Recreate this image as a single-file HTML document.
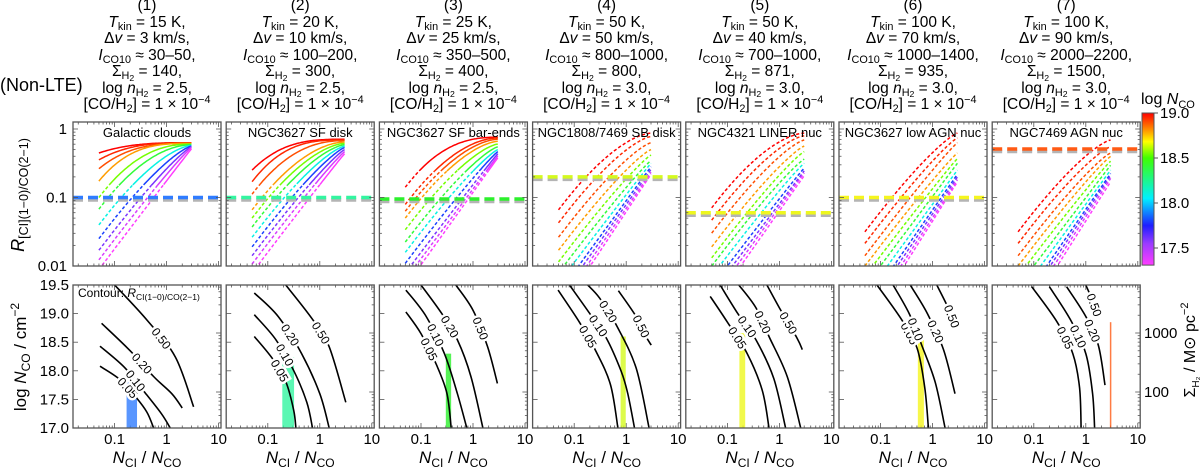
<!DOCTYPE html>
<html><head><meta charset="utf-8">
<style>
html,body{margin:0;padding:0;background:#fff;}
#wrap{position:relative;width:1200px;height:469px;overflow:hidden;font-family:"Liberation Sans","DejaVu Sans",sans-serif;color:#000;}
.hdr{position:absolute;top:-2px;width:190px;text-align:center;font-size:15.5px;line-height:16.5px;white-space:nowrap;}
.hdr sub,.hdr sup{font-size:70%;line-height:0;vertical-align:baseline;position:relative;}
.hdr sub{top:0.3em;}
.hdr sub sub{font-size:80%;top:0.2em;}
.hdr sup{top:-0.55em;}
.abs{position:absolute;white-space:nowrap;}
svg{position:absolute;left:0;top:0;}
</style></head>
<body>
<div id="wrap">
<div class="abs" style="left:0;top:75px;font-size:18px;">(Non-LTE)</div>
<div id="hdrs"></div>
<svg id="chart" width="1200" height="469" xmlns="http://www.w3.org/2000/svg"></svg>
</div>
<script>
// ---------- data ----------
const panelTitles = ["Galactic clouds","NGC3627 SF disk","NGC3627 SF bar-ends","NGC1808/7469 SB disk","NGC4321 LINER nuc","NGC3627 low AGN nuc","NGC7469 AGN nuc"];
const tkin = ["15","20","25","50","50","100","100"];
const dv = ["3","10","25","50","40","70","90"];
const ico = ["30–50","100–200","350–500","800–1000","700–1000","1000–1400","2000–2200"];
const sigma = ["140","300","400","800","871","935","1500"];
const lognh2 = ["2.5","2.5","2.5","3.0","3.0","3.0","3.0"];
const curveLogN = [19.0,18.95,18.9,18.8,18.55,18.4,18.1,17.8,17.6,17.4,17.3];
// log R at N_CI/N_CO = 0.05 (start) and 3 (end), per panel per curve
const curveStartLogR = [
 [-0.35,-0.45,-0.58,-0.76,-1.0,-1.17,-1.4,-1.6,-1.77,-1.91,-2.05],
 [-0.6,-0.77,-0.95,-1.18,-1.3,-1.43,-1.58,-1.72,-1.85,-1.97,-2.1],
 [-0.85,-1.1,-1.2,-1.3,-1.47,-1.65,-1.8,-1.96,-2.1,-2.2,-2.3],
 [-1.18,-1.37,-1.58,-1.77,-1.94,-2.1,-2.25,-2.4,-2.5,-2.6,-2.7],
 [-1.15,-1.33,-1.52,-1.72,-1.88,-2.0,-2.15,-2.3,-2.4,-2.5,-2.6],
 [-1.5,-1.67,-1.85,-2.0,-2.15,-2.3,-2.45,-2.6,-2.7,-2.8,-2.9],
 [-1.5,-1.67,-1.85,-2.0,-2.15,-2.3,-2.45,-2.6,-2.7,-2.8,-2.9]];
const curveEndLogR = [
 [-0.2,-0.2,-0.21,-0.21,-0.22,-0.23,-0.24,-0.25,-0.26,-0.27,-0.29],
 [-0.15,-0.16,-0.17,-0.19,-0.21,-0.23,-0.25,-0.27,-0.3,-0.33,-0.36],
 [-0.12,-0.13,-0.15,-0.18,-0.22,-0.26,-0.3,-0.33,-0.36,-0.39,-0.42],
 [-0.06,-0.11,-0.2,-0.3,-0.38,-0.46,-0.5,-0.55,-0.59,-0.63,-0.66],
 [-0.06,-0.1,-0.16,-0.25,-0.33,-0.44,-0.5,-0.57,-0.61,-0.64,-0.68],
 [-0.06,-0.13,-0.2,-0.35,-0.43,-0.5,-0.6,-0.66,-0.7,-0.74,-0.77],
 [-0.16,-0.26,-0.35,-0.4,-0.47,-0.53,-0.6,-0.65,-0.68,-0.72,-0.77]];
const solidAboveLogR = [-0.8,-0.8,-0.6,9,9,9,9];
const curveXStart = 0.05, curveXEnd = 3;
const obsR = [0.1,0.1,0.095,0.2,0.06,0.1,0.51];
const obsColor = ["#2f7cff","#33f5a0","#2cf02c","#d4fa1e","#eef71e","#f5f51e","#ff5a14"];
const bandXLo = [0.17,0.19,0.30,0.78,0.17,0.52,3.0];
const bandXHi = [0.27,0.32,0.38,0.98,0.22,0.68,3.0];
const bandTopLogN = [17.87,18.24,18.3,18.6,18.66,18.62,18.85];
const contourLevels = ["0.05","0.10","0.20","0.50"];
// contour points as [log10(N_CI/N_CO), log N_CO]
const contourPts = [
 [[[-1.28,18.08],[-0.9,17.85],[-0.6,17.55],[-0.38,17.28],[-0.25,17.0]],
  [[-1.28,18.43],[-0.8,18.05],[-0.4,17.6],[-0.1,17.25],[0.07,17.0]],
  [[-1.25,18.83],[-0.7,18.35],[-0.25,17.9],[0.1,17.6],[0.3,17.35]],
  [[-1.03,19.53],[-0.38,18.89],[0.17,18.24],[0.52,17.37]]],
 [[[-1.26,18.6],[-0.9,18.2],[-0.65,17.8],[-0.5,17.3],[-0.46,17.0]],
  [[-1.26,18.98],[-0.85,18.55],[-0.5,18.0],[-0.25,17.45],[-0.14,17.0]],
  [[-1.26,19.36],[-0.8,18.95],[-0.35,18.3],[0.0,17.6],[0.18,17.0]],
  [[-0.68,19.53],[-0.14,18.9],[0.18,18.42],[0.5,17.45]]],
 [[[-1.29,19.03],[-1.0,18.65],[-0.7,18.1],[-0.5,17.6],[-0.42,17.0]],
  [[-1.29,19.41],[-0.9,18.95],[-0.55,18.3],[-0.3,17.6],[-0.12,17.0]],
  [[-1.0,19.5],[-0.6,19.0],[-0.3,18.54],[-0.04,17.9],[0.19,17.0]],
  [[-0.33,19.5],[0.0,19.06],[0.28,18.42],[0.47,17.78]]],
 [[[-1.31,19.41],[-0.9,18.85],[-0.58,18.34],[-0.3,17.75],[-0.16,17.0]],
  [[-1.09,19.5],[-0.7,19.0],[-0.38,18.57],[-0.1,18.0],[0.03,17.6],[0.16,17.0]],
  [[-0.74,19.5],[-0.51,19.27],[-0.19,18.8],[0.19,18.05],[0.44,17.0]],
  [[-0.15,19.4],[0.19,18.95],[0.38,18.6],[0.48,18.45]]],
 [[[-1.33,19.3],[-1.0,18.85],[-0.62,18.3],[-0.33,17.66],[-0.2,17.0]],
  [[-1.14,19.5],[-0.8,19.0],[-0.45,18.54],[-0.11,17.87],[0.12,17.0]],
  [[-0.78,19.5],[-0.45,19.1],[-0.2,18.6],[0.15,17.9],[0.41,17.0]],
  [[-0.24,19.5],[0.0,19.1],[0.34,18.57],[0.44,18.37]]],
 [[[-1.07,19.5],[-0.6,18.9],[-0.3,18.4],[-0.15,17.7],[-0.08,17.0]],
  [[-0.76,19.5],[-0.45,19.0],[-0.21,18.45],[0.05,17.8],[0.24,17.0]],
  [[-0.43,19.5],[-0.1,19.0],[0.21,18.37],[0.43,17.6]],
  [[0.08,19.5],[0.3,19.1],[0.43,18.8]]],
 [[[-1.04,19.47],[-0.55,18.85],[-0.25,18.3],[-0.12,17.7],[-0.09,17.0]],
  [[-0.7,19.47],[-0.3,18.9],[0.0,18.3],[0.13,17.6],[0.17,17.0]],
  [[-0.37,19.47],[0.0,18.95],[0.24,18.45],[0.37,17.75]],
  [[0.0,19.5],[0.12,19.25],[0.2,19.05]]]];
const topYTicks = [1,0.1,0.01];
const topYTickLabels = ["1","0.1","0.01"];
const botYTicks = [17.0,17.5,18.0,18.5,19.0,19.5];
const xTicks = [0.1,1,10];
const xTickLabels = ["0.1","1","10"];
const cbarTicks = [17.5,18.0,18.5,19.0];
const sigmaTicks = [100,1000];
const cmapStops = [[17.3,"#ff3cff"],[17.55,"#9a3cff"],[17.75,"#1e1eff"],[18.05,"#00f0ff"],[18.5,"#40ff00"],[18.68,"#ffff00"],[18.82,"#ff8c00"],[19.0,"#ff0000"]];

// ---------- geometry ----------
const PL = i => 73 + 153.2*i, PW = 148;
const TT = 122, TB = 266, BT = 285, BB = 428;
const xS = (i, lx) => PL(i) + (lx + 1.8) * 52;
const yTop = lr => 129 - 68.5 * lr;
const yBot = ln => BT + (19.5 - ln) * 57.2;
const cbY = v => 113 + (19.0 - v) * 90;
const sigY = ls => 333 + (3 - ls) * 59;

const NS = "http://www.w3.org/2000/svg";
const svg = document.getElementById('chart');
function mk(tag, attrs, parent){ const e=document.createElementNS(NS,tag); for(const k in attrs) e.setAttribute(k,attrs[k]); (parent||svg).appendChild(e); return e; }
function hex2rgb(h){return [parseInt(h.substr(1,2),16),parseInt(h.substr(3,2),16),parseInt(h.substr(5,2),16)];}
function cmap(v){
  if(v<=cmapStops[0][0]) return cmapStops[0][1];
  for(let k=1;k<cmapStops.length;k++){ if(v<=cmapStops[k][0]){ const a=cmapStops[k-1],b=cmapStops[k]; const t=(v-a[0])/(b[0]-a[0]); const ca=hex2rgb(a[1]),cb=hex2rgb(b[1]); return 'rgb('+ca.map((c,j)=>Math.round(c+(cb[j]-c)*t)).join(',')+')'; } }
  return cmapStops[cmapStops.length-1][1];
}
function crPath(p){ let d='M'+p[0][0].toFixed(1)+','+p[0][1].toFixed(1);
  for(let i=0;i<p.length-1;i++){ const p0=p[Math.max(0,i-1)],p1=p[i],p2=p[i+1],p3=p[Math.min(p.length-1,i+2)];
    d+=' C'+(p1[0]+(p2[0]-p0[0])/6).toFixed(1)+','+(p1[1]+(p2[1]-p0[1])/6).toFixed(1)+' '+(p2[0]-(p3[0]-p1[0])/6).toFixed(1)+','+(p2[1]-(p3[1]-p1[1])/6).toFixed(1)+' '+p2[0].toFixed(1)+','+p2[1].toFixed(1);}
  return d; }

// headers
const hdrs=document.getElementById('hdrs');
for(let i=0;i<7;i++){
  const d=document.createElement('div'); d.className='hdr';
  d.style.left=(PL(i)+PW/2-95)+'px';
  
  
  d.innerHTML='('+(i+1)+')<br><i>T</i><sub>kin</sub> = '+tkin[i]+' K,<br>Δ<i>v</i> = '+dv[i]+' km/s,<br><i>I</i><sub>CO10</sub> ≈ '+ico[i]+',<br>Σ<sub>H<sub>2</sub></sub> = '+sigma[i]+',<br>log <i>n</i><sub>H<sub>2</sub></sub> = '+lognh2[i]+',<br>[CO/H<sub>2</sub>] = 1 × 10<sup>−4</sup>';
  hdrs.appendChild(d);
}

const defs=mk('defs',{});
for(let i=0;i<7;i++){
  const c1=mk('clipPath',{id:'ct'+i},defs); mk('rect',{x:PL(i),y:TT,width:PW,height:TB-TT},c1);
  const c2=mk('clipPath',{id:'cb'+i},defs); mk('rect',{x:PL(i),y:BT,width:PW,height:BB-BT},c2);
}

for(let i=0;i<7;i++){
  const L=PL(i), R=L+PW;
  // ---- top panel ----
  const gt=mk('g',{'clip-path':'url(#ct'+i+')'});
  
  
  const u0=Math.log10(curveXStart), u1=Math.log10(curveXEnd), Lr=u1-u0;
  for(let c=0;c<curveLogN.length;c++){
    const s=curveStartLogR[i][c], e=curveEndLogR[i][c];
    const p=Math.min(3,Math.max(1,Lr/Math.max(0.01,e-s)));
    const pts=[];
    for(let k=0;k<=60;k++){ const u=u0+Lr*k/60; const lr=e-(e-s)*Math.pow((u1-u)/Lr,p); pts.push([xS(i,u),yTop(lr),lr]); }
    let run=[], solid=null;
    const flush=()=>{ if(run.length>1){ const pa=mk('path',{d:'M'+run.map(q=>q[0].toFixed(1)+','+q[1].toFixed(1)).join(' L'),fill:'none',stroke:cmap(curveLogN[c]),'stroke-width':1.5,'stroke-dasharray':solid?'none':'3.2,2.2'},gt);
      
       } };
    for(const q of pts){ const sd=q[2]>solidAboveLogR[i]; if(solid===null) solid=sd; if(sd!==solid){ const last=run[run.length-1]; flush(); run=[last]; solid=sd; } run.push(q); }
    flush();
  }
  const yo=yTop(Math.log10(obsR[i]));
  const og=mk('line',{x1:L,x2:R,y1:yo+2.5,y2:yo+2.5,stroke:'#b4b4b4','stroke-width':3.5,'stroke-dasharray':'10,5'},gt);
  
  
  const ol=mk('line',{x1:L,x2:R,y1:yo,y2:yo,stroke:obsColor[i],'stroke-width':3.5,'stroke-dasharray':'10,5'},gt);
  
  
  const tt=mk('text',{x:L+PW/2,y:TT+15,'font-size':13,'text-anchor':'middle'}); tt.textContent=panelTitles[i];
  
  

  const tg=mk('g',{stroke:'#555','stroke-width':0.8});
  
  
  for(let dec=-2;dec<=0;dec++) for(let m=1;m<10;m++){ const v=dec+Math.log10(m); const y=yTop(v); if(y<TT||y>TB) continue; const len=m===1?5:2.5;
    mk('line',{x1:L,x2:L+len,y1:y,y2:y},tg); mk('line',{x1:R,x2:R-len,y1:y,y2:y},tg); }
  for(let dec=-2;dec<=1;dec++) for(let m=1;m<10;m++){ const v=dec+Math.log10(m); const x=xS(i,v); if(x<L||x>R) continue; const len=m===1?5:2.5;
    mk('line',{x1:x,x2:x,y1:TB,y2:TB-len},tg); mk('line',{x1:x,x2:x,y1:TT,y2:TT+len},tg);
    mk('line',{x1:x,x2:x,y1:BB,y2:BB-len},tg); mk('line',{x1:x,x2:x,y1:BT,y2:BT+len},tg); }
  for(const v of botYTicks){ const y=yBot(v); mk('line',{x1:L,x2:L+5,y1:y,y2:y},tg); }
  for(let dec=1;dec<=3;dec++) for(let m=1;m<10;m++){ const ls=dec+Math.log10(m); const y=sigY(ls); if(y<BT||y>BB) continue; const len=m===1?5:2.5; mk('line',{x1:R,x2:R-len,y1:y,y2:y},tg); }
  const fr=mk('rect',{x:L,y:TT,width:PW,height:TB-TT,fill:'none',stroke:'#555','stroke-width':1.3});
  
  

  // ---- bottom panel ----
  const gb=mk('g',{'clip-path':'url(#cb'+i+')'});
  
  
  const bx0=xS(i,Math.log10(bandXLo[i])), bx1=xS(i,Math.log10(bandXHi[i]));
  const bw=Math.max(1.5,bx1-bx0);
  const band=mk('rect',{x:bx0-(bx1-bx0<1.5?0.75:0),y:yBot(bandTopLogN[i]),width:bw,height:BB-yBot(bandTopLogN[i]),fill:obsColor[i],'fill-opacity':0.8},gb);
  
  
  for(let c=0;c<contourLevels.length;c++){
    const pts=contourPts[i][c].map(q=>[xS(i,q[0]),yBot(q[1])]);
    const cp=mk('path',{d:crPath(pts),fill:'none',stroke:'#000','stroke-width':1.6},gb);
    
    
    const a=pts[1], b=pts[2]; const mx=(a[0]+b[0])/2, my=(a[1]+b[1])/2;
    let ang=Math.atan2(b[1]-a[1],b[0]-a[0])*180/Math.PI;
    const lt=mk('text',{x:mx,y:my+4,'font-size':12,'text-anchor':'middle',transform:'rotate('+ang.toFixed(1)+' '+mx.toFixed(1)+' '+my.toFixed(1)+')',stroke:'#fff','stroke-width':5,'paint-order':'stroke',fill:'#000'},gb);
    lt.textContent=contourLevels[c];
    
    
  }
  const fb=mk('rect',{x:L,y:BT,width:PW,height:BB-BT,fill:'none',stroke:'#555','stroke-width':1.3});
  
  

  for(let k=0;k<xTicks.length;k++){ const t=mk('text',{x:xS(i,Math.log10(xTicks[k])),y:444,'font-size':15,'text-anchor':'middle'}); t.textContent=xTickLabels[k];
    
     }
  const xt=mk('text',{x:L+PW/2,y:463,'font-size':17,'text-anchor':'middle'});
  xt.innerHTML='<tspan font-style="italic">N</tspan><tspan font-size="12" dy="4">CI</tspan><tspan dy="-4"> / </tspan><tspan font-style="italic">N</tspan><tspan font-size="12" dy="4">CO</tspan>';
  
  
}

const ca=mk('text',{x:78,y:297,'font-size':12});
ca.innerHTML='Contour: <tspan font-style="italic">R</tspan><tspan font-size="8.5" dy="3">CI(1−0)/CO(2−1)</tspan>';



for(let k=0;k<topYTicks.length;k++){ const t=mk('text',{x:67,y:yTop(Math.log10(topYTicks[k]))+5,'font-size':15,'text-anchor':'end'}); t.textContent=topYTickLabels[k];
  
   }
for(const v of botYTicks){ const t=mk('text',{x:69,y:yBot(v)+5,'font-size':15,'text-anchor':'end'}); t.textContent=v.toFixed(1);
  
   }
const yt1=mk('text',{x:0,y:0,'font-size':18,'text-anchor':'middle',transform:'translate(24,195) rotate(-90)'});
yt1.innerHTML='<tspan font-style="italic">R</tspan><tspan font-size="12.5" dy="4">[CI](1−0)/CO(2−1)</tspan>';


const yt2=mk('text',{x:0,y:0,'font-size':17,'text-anchor':'middle',transform:'translate(26,357) rotate(-90)'});
yt2.innerHTML='log <tspan font-style="italic">N</tspan><tspan font-size="12" dy="4">CO</tspan><tspan dy="-4"> / cm</tspan><tspan font-size="12" dy="-7">−2</tspan>';



const lg=mk('linearGradient',{id:'cbg',x1:0,y1:1,x2:0,y2:0},defs);
const cbLo=17.31, cbHi=19.0;
for(const st of cmapStops){ mk('stop',{offset:((st[0]-cbLo)/(cbHi-cbLo)).toFixed(3),'stop-color':st[1]},lg); }
const cb=mk('rect',{x:1142,y:cbY(cbHi),width:12,height:cbY(cbLo)-cbY(cbHi),fill:'url(#cbg)',stroke:'#555','stroke-width':1});


for(const v of cbarTicks){ const y=cbY(v); mk('line',{x1:1154,x2:1158,y1:y,y2:y,stroke:'#555','stroke-width':1});
  const t=mk('text',{x:1160,y:y+5,'font-size':15}); t.textContent=v.toFixed(1);
  
   }
const cbt=mk('text',{x:1141,y:104,'font-size':16});
cbt.innerHTML='log <tspan font-style="italic">N</tspan><tspan font-size="11" dy="4">CO</tspan>';



for(const s of sigmaTicks){ const t=mk('text',{x:1144,y:sigY(Math.log10(s))+5,'font-size':15}); t.textContent=String(s);
  
   }
const st=mk('text',{x:0,y:0,'font-size':16,'text-anchor':'middle',transform:'translate(1195,350) rotate(-90)'});
st.innerHTML='Σ<tspan font-size="10" dy="4">H₂</tspan><tspan dy="-4"> / M</tspan><tspan>⊙</tspan><tspan> pc</tspan><tspan font-size="11" dy="-7">−2</tspan>';


</script>
</body></html>
